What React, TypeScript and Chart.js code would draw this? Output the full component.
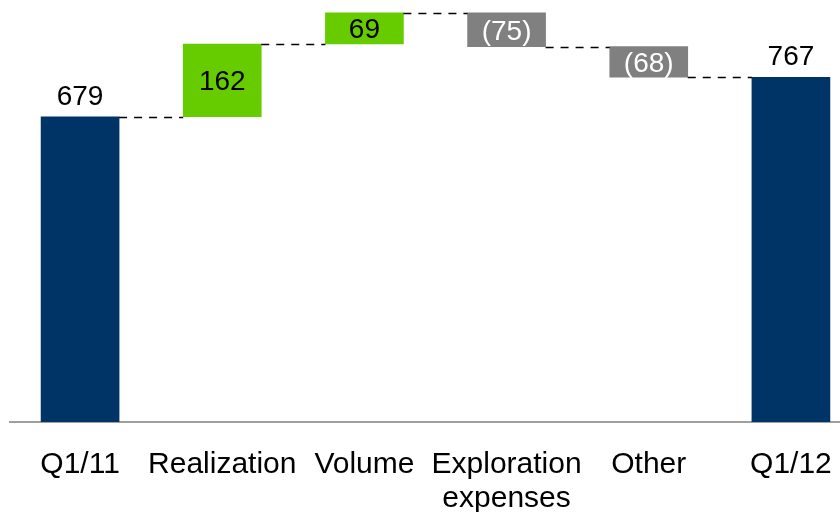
import React, { useEffect, useRef } from "react";
import { Chart, registerables } from "chart.js";

Chart.register(...registerables);

// Waterfall: opening total, period changes, closing total
const categories: (string | string[])[] = [
  "Q1/11",
  "Realization",
  "Volume",
  ["Exploration", "expenses"],
  "Other",
  "Q1/12",
];
const openingTotal = 679;
const changes = [162, 69, -75, -68];
const closingTotal = 767;

const NAVY = "#003366";
const GREEN = "#66cc00";
const GREY = "#808080";
const FONT = "'Liberation Sans', Arial, Helvetica, sans-serif";

// Running totals after each bar (opening, each change)
const levels: number[] = [openingTotal];
changes.forEach((c) => levels.push(levels[levels.length - 1] + c));

const ranges: [number, number][] = [
  [0, openingTotal],
  ...changes.map((c, i) => {
    const a = levels[i];
    const b = levels[i + 1];
    return [Math.min(a, b), Math.max(a, b)] as [number, number];
  }),
  [0, closingTotal],
];

const colors = [NAVY, ...changes.map((c) => (c >= 0 ? GREEN : GREY)), NAVY];
const labelTexts = [
  String(openingTotal),
  ...changes.map((c) => (c >= 0 ? String(c) : `(${Math.abs(c)})`)),
  String(closingTotal),
];

const waterfallDecor = {
  id: "waterfallDecor",
  afterDatasetsDraw(chart: any) {
    const ctx = chart.ctx;
    const meta = chart.getDatasetMeta(0);
    const y = chart.scales.y;
    const bars = meta.data;

    // dashed connectors between neighbouring bars
    ctx.save();
    ctx.strokeStyle = "#000";
    ctx.lineWidth = 1.5;
    ctx.setLineDash([8, 7]);
    for (let i = 0; i < bars.length - 1; i++) {
      const a = bars[i];
      const b = bars[i + 1];
      const py = Math.round(y.getPixelForValue(levels[i])) + 0.5;
      ctx.beginPath();
      ctx.moveTo(a.x + a.width / 2, py);
      ctx.lineTo(b.x - b.width / 2, py);
      ctx.stroke();
    }
    ctx.restore();

    // value labels
    ctx.save();
    ctx.font = `28px ${FONT}`;
    ctx.textAlign = "center";
    ctx.textBaseline = "alphabetic";
    bars.forEach((bar: any, i: number) => {
      const isTotal = i === 0 || i === bars.length - 1;
      if (isTotal) {
        ctx.fillStyle = "#000";
        ctx.fillText(labelTexts[i], bar.x, bar.y - 12);
      } else {
        const mid = (bar.y + bar.base) / 2;
        ctx.fillStyle = changes[i - 1] >= 0 ? "#000" : "#ffffff";
        ctx.fillText(labelTexts[i], bar.x, mid + 10);
      }
    });
    ctx.restore();
  },
};

export default function App() {
  const canvasRef = useRef<HTMLCanvasElement | null>(null);

  useEffect(() => {
    if (!canvasRef.current) return;
    const chart = new Chart(canvasRef.current, {
      type: "bar",
      data: {
        labels: categories,
        datasets: [
          {
            data: ranges as any,
            backgroundColor: colors,
            borderWidth: 0,
            borderSkipped: false,
            barThickness: 78,
          },
        ],
      },
      options: {
        responsive: true,
        maintainAspectRatio: false,
        animation: false,
        layout: { padding: 0 },
        plugins: {
          legend: { display: false },
          tooltip: { enabled: false },
        },
        scales: {
          x: {
            grid: { display: false, drawTicks: false },
            border: { display: true, color: "#a0a0a0", width: 2 },
            ticks: {
              color: "#000",
              font: { family: FONT, size: 30, lineHeight: 1.15 },
              padding: 25,
              maxRotation: 0,
              autoSkip: false,
            },
            afterFit(scale: any) {
              scale.height = 90;
            },
          },
          y: {
            display: false,
            min: 0,
            max: 921,
          },
        },
      },
      plugins: [waterfallDecor],
    });
    return () => chart.destroy();
  }, []);

  return (
    <div
      style={{
        position: "absolute",
        left: 0,
        top: 0,
        width: 840,
        height: 512,
        overflow: "hidden",
        background: "#fff",
      }}
    >
      <div style={{ position: "absolute", left: 9, top: 8, width: 853, height: 504 }}>
        <canvas ref={canvasRef} />
      </div>
    </div>
  );
}
